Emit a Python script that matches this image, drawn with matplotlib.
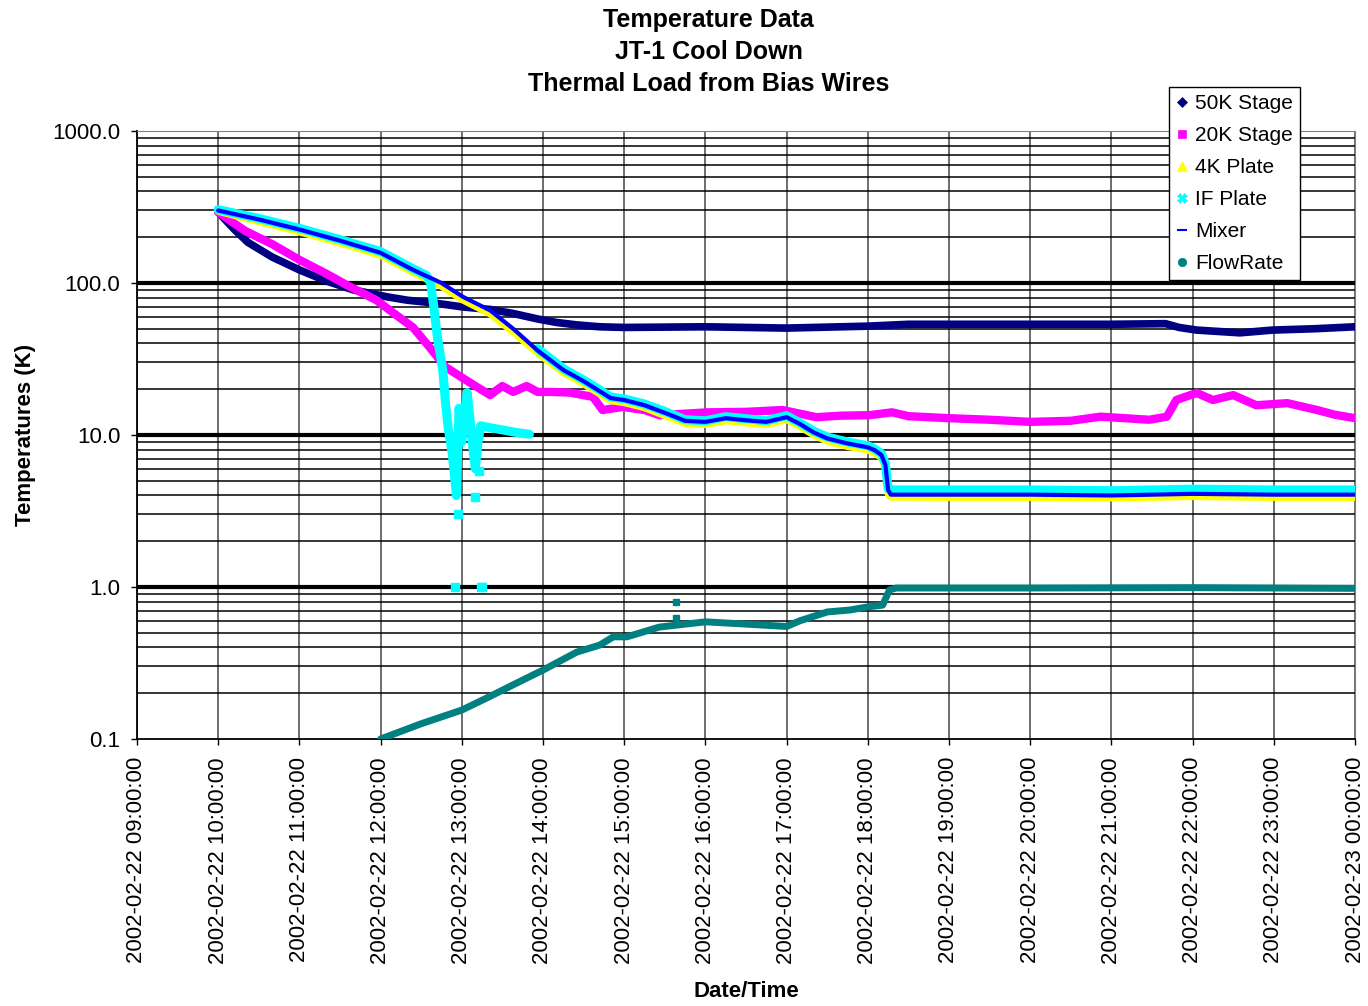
import numpy as np
import pandas as pd
import matplotlib
matplotlib.use("Agg")
import matplotlib.pyplot as plt
import matplotlib.dates as mdates
from matplotlib.lines import Line2D
from matplotlib.ticker import FixedLocator, FuncFormatter, NullFormatter

plt.rcParams['font.family'] = ['Liberation Sans', 'DejaVu Sans']

DAY = pd.Timestamp('2002-02-22')


def stamp(times):
    out = []
    for t in times:
        if t is None:
            out.append(pd.NaT)
            continue
        h, m = t.split(':')
        out.append(DAY + pd.Timedelta(hours=int(h), minutes=int(m)))
    return pd.to_datetime(out)


# --- 50K stage
t_50k = ["10:00", "10:05", "10:12", "10:22", "10:40", "11:00", "11:20", "11:40", "12:05",
         "12:20", "12:39", "13:01", "13:21", "13:38", "13:56", "14:10", "14:25", "14:42",
         "15:00", "16:00", "17:00", "18:00", "18:30", "19:00", "20:00", "21:00", "21:40",
         "21:50", "22:03", "22:35", "22:59", "23:30", "24:00"]
v_50k = [293, 262, 225, 185, 148, 122, 103, 90, 81,
         77, 74, 69.5, 67, 63, 58, 55, 53, 51.5,
         51, 51.5, 50.5, 52, 53.5, 53.5, 53.5, 53.5, 54,
         51, 49, 47, 49, 50, 51.5]

# --- 20K stage
t_20k = ["10:00", "10:05", "10:20", "10:40", "11:00", "11:20", "11:35", "11:57", "12:10",
         "12:24", "12:36", "12:48", "13:03", "13:12", "13:21", "13:25", "13:30", "13:38",
         "13:48", "13:56", "14:05", "14:20", "14:37", "14:44", "14:59", "15:15", "15:26",
         "16:02", "16:30", "16:57", "17:22", "17:40", "18:01", "18:18", "18:30", "19:00",
         "19:30", "20:00", "20:30", "20:52", "21:28", "21:41", "21:48", "22:03", "22:15",
         "22:30", "22:47", "23:10", "23:32", "23:45", "24:00"]
v_20k = [293, 272, 220, 180, 142, 115, 97, 77, 63,
         51, 38, 28, 23, 20.5, 18.3, 19.5, 21, 19.2,
         21, 19.2, 19.2, 19, 17.8, 14.6, 15.3, 14.6, 13.5,
         14.1, 14.2, 14.6, 13.1, 13.4, 13.5, 14.1, 13.3, 12.9,
         12.6, 12.2, 12.4, 13.2, 12.6, 13.2, 17, 18.9, 17,
         18.3, 15.7, 16.2, 14.6, 13.6, 12.9]

# --- cold stage (4K plate, mixer) sampled on the same times
t_cold = ["10:00", "10:30", "11:00", "11:30", "12:00", "12:24", "12:45", "13:01", "13:21",
          "13:38", "13:56", "14:15", "14:30", "14:40", "14:50", "15:00", "15:15", "15:30",
          "15:45", "16:00", "16:15", "16:30", "16:45", "17:00", "17:10", "17:20", "17:30",
          "17:45", "18:00", "18:05", "18:10", "18:13", "18:15", "18:17", "19:00", "20:00",
          "21:00", "22:00", "23:00", "24:00"]
v_mixer = [300, 262, 225, 190, 158, 122, 100, 81, 66,
           50, 36, 26.8, 22.6, 19.9, 17.5, 17.0, 15.7, 14.0,
           12.4, 12.2, 12.9, 12.5, 12.2, 13.1, 11.8, 10.4, 9.5,
           8.8, 8.3, 7.95, 7.4, 6.35, 4.35, 4.05, 4.05, 4.05,
           4.0, 4.1, 4.05, 4.05]
v_4k = [296, 253, 217, 183, 152, 117, 95, 77, 62.5,
        47.5, 34.5, 25.7, 21.7, 19.1, 16.8, 16.3, 15.1, 13.4,
        11.9, 11.7, 12.4, 12.0, 11.7, 12.6, 11.3, 10.0, 9.1,
        8.4, 7.95, 7.6, 7.1, 6.1, 4.1, 3.9, 3.88, 3.88,
        3.85, 3.93, 3.88, 3.88]

# --- IF plate: tracks the cold stage, drops out 12:35-13:50, then rejoins
t_if = ["10:00", "10:30", "11:00", "11:30", "12:00", "12:24", "12:34",
        "12:37", "12:39", "12:42", "12:46", "12:48", "12:50", "12:53", "12:55", "12:56",
        "12:58", "13:00", "13:04", "13:06", "13:08", "13:10", "13:12", "13:14", "13:20",
        "13:30", "13:40", "13:50", None,
        "13:56", "14:15", "14:30", "14:40", "14:50", "15:00", "15:15", "15:30", "15:45",
        "16:00", "16:15", "16:30", "16:45", "17:00", "17:10", "17:20", "17:30", "17:45",
        "18:00", "18:05", "18:10", "18:13", "18:15", "18:17", "19:00", "20:00", "21:00",
        "22:00", "23:00", "24:00"]
v_if = [304, 266, 229, 193, 161, 124, 112,
        100, 74, 44, 26.7, 16.2, 11, 7.5, 5.0, 4.0,
        15, 9, 19, 13, 8.5, 6.0, 9, 11.5, 11.2,
        10.8, 10.4, 10.1, np.nan,
        37, 27.3, 23.0, 20.3, 17.8, 17.3, 16.0, 14.3, 12.6,
        12.4, 13.2, 12.8, 12.4, 13.4, 12.0, 10.6, 9.7, 9.0,
        8.5, 8.1, 7.55, 6.5, 4.45, 4.35, 4.35, 4.35, 4.3,
        4.4, 4.35, 4.35]
t_if_pts = ["12:55", "12:57", "13:10", "13:13", "13:14", "13:15"]
v_if_pts = [1.0, 3.0, 3.9, 5.8, 1.0, 1.0]

# --- flow rate
t_flow = ["12:00", "12:30", "13:00", "13:20", "13:40", "14:00", "14:25", "14:42", "14:52",
          "15:02", "15:26", "16:00", "16:30", "17:00", "17:10", "17:30", "17:47", "18:00",
          "18:11", "18:16", "18:21", "20:00", "22:00", "24:00"]
v_flow = [0.1, 0.126, 0.155, 0.189, 0.232, 0.284, 0.373, 0.415, 0.47,
          0.47, 0.545, 0.59, 0.57, 0.55, 0.6, 0.685, 0.706, 0.74,
          0.76, 0.955, 0.985, 0.985, 0.99, 0.98]
t_flow_pts = ["15:38", "15:38"]
v_flow_pts = [0.8, 0.63]

hour_ticks = [DAY + pd.Timedelta(hours=h) for h in range(9, 25)]
y_major = [0.1, 1, 10, 100, 1000]

fig = plt.figure(figsize=(13.68, 10.06), dpi=100)
ax = fig.add_axes([0.1001, 0.2654, 0.8904, 0.6044])

ax.set_yscale('log')
ax.set_ylim(0.1, 1000)
ax.set_xlim(hour_ticks[0], hour_ticks[-1])

# grid: thin lines for minor decades, heavy lines at 1, 10, 100
ax.yaxis.set_major_locator(FixedLocator(y_major))
ax.yaxis.set_major_formatter(FuncFormatter(lambda v, p: '%.1f' % v))
ax.yaxis.set_minor_locator(FixedLocator([m * 10.0 ** e for e in range(-1, 3) for m in range(2, 10)]))
ax.yaxis.set_minor_formatter(NullFormatter())
ax.grid(which='minor', axis='y', color='black', lw=1.1)
for yv in [1, 10, 100]:
    ax.axhline(yv, color='black', lw=3.0, zorder=1.5)
ax.axhline(1000, color='#333333', lw=1.3, zorder=1.5)

ax.xaxis.set_major_locator(FixedLocator(mdates.date2num(hour_ticks)))
ax.xaxis.set_major_formatter(mdates.DateFormatter('%Y-%m-%d %H:%M:%S'))
ax.grid(which='major', axis='x', color='#555555', lw=1.2)
ax.set_axisbelow(True)

ax.tick_params(axis='y', which='major', length=4, pad=8, labelsize=16, width=1)
ax.tick_params(axis='y', which='minor', length=0)
ax.tick_params(axis='x', which='major', length=4, pad=9, labelsize=16, width=1, labelrotation=90)
for lab in ax.get_xticklabels():
    lab.set_ha('center')
    lab.set_va('top')

for side in ['top', 'right']:
    ax.spines[side].set_color('#808080')
for side in ['left', 'bottom']:
    ax.spines[side].set_color('black')
    ax.spines[side].set_linewidth(1.3)

style = dict(solid_capstyle='round', solid_joinstyle='round', zorder=3)
ax.plot(stamp(t_50k), v_50k, color='#000080', lw=5.5, **style)
ax.plot(stamp(t_20k), v_20k, color='#FF00FF', lw=6.0, **style)
ax.plot(stamp(t_cold), v_4k, color='#FFFF00', lw=5.0, **style)
ax.plot(stamp(t_if), v_if, color='#00FFFF', lw=6.5, **style)
ax.plot(stamp(t_if_pts), v_if_pts, ls='none', marker='s', ms=6, color='#00FFFF', zorder=3)
ax.plot(stamp(t_cold), v_mixer, color='#0000FF', lw=3.0, **style)
ax.plot(stamp(t_flow), v_flow, color='#008080', lw=5.0, **style)
ax.plot(stamp(t_flow_pts), v_flow_pts, ls='none', marker='s', ms=4, color='#008080', zorder=3)

# titles and axis labels
title_lines = ["Temperature Data", "JT-1 Cool Down", "Thermal Load from Bias Wires"]
for i, line in enumerate(title_lines):
    fig.text(0.518, 0.9801 - i * 0.0318, line, ha='center', va='center',
             fontsize=18, fontweight='bold')
fig.text(0.5453, 0.014, "Date/Time", ha='center', va='center', fontsize=16, fontweight='bold')
fig.text(0.0183, 0.5676, "Temperatures (K)", ha='center', va='center', rotation=90,
         fontsize=16, fontweight='bold')

# legend with marker-only handles
names = ["50K Stage", "20K Stage", "4K Plate", "IF Plate", "Mixer", "FlowRate"]
colors = ['#000080', '#FF00FF', '#FFFF00', '#00FFFF', '#0000FF', '#008080']
markers = ['D', 's', '^', 'X', '_', 'o']
sizes = [5, 6, 7, 7, 7, 6]
handles = [Line2D([], [], ls='none', marker=mk, color=c, ms=s, markeredgewidth=1.5 if mk == '_' else 0.5)
           for mk, c, s in zip(markers, colors, sizes)]
leg = fig.legend(handles, names, loc='upper left', bbox_to_anchor=(0.8545, 0.9135),
                 fontsize=15, frameon=True, fancybox=False, edgecolor='black',
                 handlelength=0.6, handletextpad=0.3, labelspacing=0.62, borderpad=0.35,
                 borderaxespad=0)
leg.get_frame().set_linewidth(1.0)
leg.get_frame().set_alpha(1)

fig.savefig('out.png', dpi=100)
